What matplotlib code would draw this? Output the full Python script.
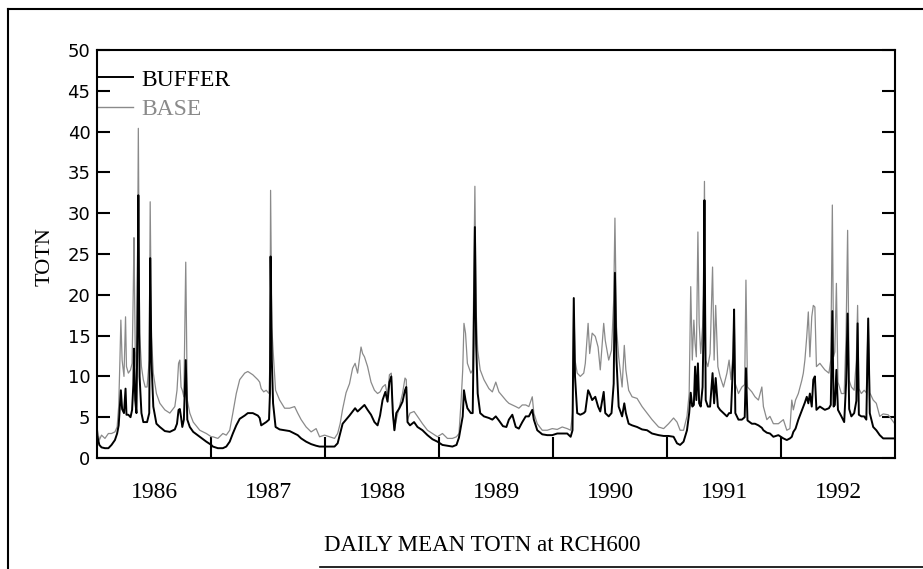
import matplotlib
matplotlib.use('Agg')
import matplotlib.pyplot as plt
from matplotlib.lines import Line2D

# days since 1986-01-01
day = [
    0, 6, 13, 24, 35, 45, 56, 63, 68, 72, 75, 79, 85, 90, 93, 99, 106, 111,
    115, 117, 121, 125, 128, 131, 135, 141, 147, 153, 159, 166, 169, 173, 179,
    189, 200, 216, 232, 248, 255, 260, 264, 268, 272, 277, 283, 288, 296, 307,
    328, 349, 365,
    370, 386, 402, 413, 424, 434, 445, 456, 472, 482, 498, 514, 520, 525, 533,
    541, 550, 553, 555, 559, 563, 571, 584, 600, 616, 632, 642, 653, 669, 685,
    701, 712, 728,
    744, 760, 770, 778, 786, 797, 808, 818, 826, 834, 845, 850, 856, 866, 877,
    888, 898, 906, 914, 923, 930, 936, 942, 947, 952, 958, 968, 978, 986, 990,
    994, 1002, 1015, 1026, 1042, 1058, 1074, 1090,
    1106, 1122, 1138, 1151, 1159, 1166, 1171, 1175, 1180, 1186, 1197, 1203,
    1206, 1210, 1214, 1219, 1227, 1239, 1255, 1266, 1277, 1287, 1300, 1311,
    1319, 1330, 1341, 1351, 1362, 1373, 1383, 1394, 1399, 1410, 1426, 1442,
    1458, 1474, 1490, 1506, 1517, 1523, 1527, 1531, 1538, 1548, 1559,
    1564, 1573, 1578, 1586, 1596, 1605, 1612, 1623, 1628, 1639, 1648, 1655,
    1659, 1664, 1671, 1682, 1689, 1694, 1703, 1714, 1730, 1746, 1762, 1778,
    1799, 1815,
    1831, 1847, 1858, 1868, 1879, 1890, 1897, 1902, 1907, 1912, 1916, 1920,
    1925, 1929, 1934, 1940, 1943, 1946, 1950, 1957, 1964, 1972, 1977, 1982,
    1989, 1996, 2007, 2018, 2025, 2031, 2038, 2041, 2045, 2055, 2066, 2075,
    2079, 2084, 2098, 2108, 2119, 2130, 2135, 2146, 2156, 2167, 2183,
    2199, 2210, 2220, 2226, 2231, 2238, 2247, 2258, 2263, 2268, 2274, 2279,
    2284, 2290, 2295, 2300, 2305, 2316, 2332, 2345, 2351, 2356, 2360, 2364,
    2369, 2374, 2385, 2394, 2400, 2405, 2410, 2417, 2426, 2433, 2437, 2441,
    2449, 2458, 2465, 2471, 2476, 2487, 2497, 2508, 2519, 2535, 2556,
]

buffer_totn = [
    2.6, 1.6, 1.3, 1.2, 1.2, 1.6, 2.2, 3.0, 4.0, 6.5, 8.3, 6.0, 5.5, 8.5, 5.3, 5.3, 5.0, 5.9,
    9.0, 13.4, 7.1, 5.5, 15.3, 32.2, 10.0, 5.5, 4.4, 4.4, 4.4, 5.5, 24.5, 12.0, 6.3,
    4.2, 3.8, 3.3, 3.2, 3.5, 4.2, 5.9, 6.0, 5.0, 3.8, 4.7, 12.0, 4.7, 3.8, 3.2,
    2.6, 2.0, 1.6,
    1.4, 1.2, 1.2, 1.4, 2.0, 3.0, 4.0, 4.8, 5.2, 5.5, 5.5, 5.2, 4.9, 4.0, 4.2,
    4.4, 4.7, 7.9, 24.7, 12.0, 6.7, 3.8, 3.5, 3.4, 3.3, 3.0, 2.8, 2.4, 2.0, 1.7,
    1.5, 1.4, 1.4,
    1.4, 1.4, 1.8, 3.0, 4.2, 4.7, 5.2, 5.7, 6.1, 5.7, 6.1, 6.3, 6.5, 5.9, 5.3,
    4.4, 4.0, 5.2, 7.1, 8.1, 6.9, 9.3, 10.0, 5.5, 3.4, 5.5, 6.1, 6.9, 8.3, 8.7,
    4.4, 4.0, 4.4, 3.8, 3.4, 2.8, 2.3, 2.0,
    1.6, 1.5, 1.4, 1.6, 2.5, 4.0, 5.1, 8.3, 7.1, 6.1, 5.5, 5.5,
    14.0, 28.3, 14.0, 7.9, 5.5, 5.1, 4.9, 4.7, 5.1, 4.6, 3.9, 3.8,
    4.7, 5.3, 3.8, 3.6, 4.4, 5.1, 5.1, 5.9, 4.7, 3.4, 2.9, 2.8,
    2.8, 3.0, 3.0, 3.0, 2.6, 3.4, 19.6, 10.0, 5.5, 5.3, 5.5,
    5.7, 8.3, 7.9, 7.1, 7.5, 6.3, 5.7, 8.1, 5.5, 5.1, 5.5, 9.1,
    22.7, 12.0, 6.3, 5.1, 6.7, 5.5, 4.2, 4.0, 3.8, 3.5, 3.4, 3.0,
    2.8, 2.7,
    2.7, 2.6, 1.8, 1.6, 2.0, 3.4, 5.5, 8.0, 6.3, 6.5, 11.2, 7.1,
    11.6, 6.7, 6.3, 8.7, 15.7, 31.6, 7.1, 6.3, 6.3, 10.4, 6.7, 9.8,
    6.3, 5.9, 5.5, 5.1, 5.5, 5.5, 12.0, 18.2, 5.5, 4.7, 4.7, 5.0,
    11.0, 4.6, 4.2, 4.2, 4.0, 3.7, 3.4, 3.1, 3.0, 2.6, 2.8,
    2.4, 2.2, 2.4, 2.6, 3.2, 3.6, 4.7, 5.8, 6.3, 6.8, 7.5, 6.7,
    7.9, 6.3, 9.6, 10.0, 5.9, 6.3, 5.9, 6.1, 6.5, 18.0, 6.3, 6.5,
    10.8, 5.9, 5.1, 4.4, 9.1, 17.7, 6.0, 5.1, 5.5, 7.0, 16.5, 5.3,
    5.1, 5.1, 4.7, 17.1, 5.5, 3.8, 3.4, 2.8, 2.4, 2.4, 2.4,
]

base_totn = [
    3.4, 2.2, 2.8, 2.4, 3.0, 3.0, 3.2, 3.8, 6.3, 12.0, 16.9, 12.0, 10.0, 17.3, 11.2, 10.4, 10.8, 11.6,
    21.0, 27.0, 13.2, 11.2, 20.0, 40.4, 15.3, 11.2, 9.6, 8.7, 8.7, 12.0, 31.4, 14.9, 10.4,
    7.9, 6.7, 5.9, 5.5, 6.3, 8.3, 11.6, 12.0, 8.7, 8.3, 7.5, 24.0, 7.1, 5.5, 4.4,
    3.4, 3.0, 2.6,
    2.6, 2.4, 3.0, 2.8, 3.4, 5.5, 7.9, 9.6, 10.4, 10.6, 10.2, 9.6, 9.3, 8.5, 8.1,
    8.3, 7.9, 12.0, 32.8, 16.0, 13.2, 8.3, 7.1, 6.1, 6.1, 6.3, 5.5, 4.7, 3.8, 3.2,
    3.6, 2.6, 2.8,
    2.6, 2.4, 3.0, 4.2, 6.0, 8.0, 9.1, 11.0, 11.6, 10.4, 13.6, 12.8, 12.4, 11.2, 9.3,
    8.3, 7.9, 8.1, 8.7, 9.0, 7.5, 10.2, 10.4, 5.5, 3.4, 4.7, 6.3, 7.9, 9.8, 9.6,
    4.7, 5.5, 5.7, 5.1, 4.2, 3.4, 3.0, 2.6,
    3.0, 2.4, 2.4, 2.6, 3.0, 7.1, 10.8, 16.5, 15.3, 11.6, 10.4, 10.8,
    20.0, 33.3, 18.1, 13.2, 10.8, 9.6, 8.5, 8.1, 9.3, 8.1, 7.5, 7.0,
    6.7, 6.5, 6.3, 6.1, 6.5, 6.5, 6.3, 7.5, 5.5, 4.2, 3.4, 3.4,
    3.6, 3.5, 3.8, 3.6, 3.4, 5.5, 19.6, 12.0, 10.4, 10.0, 10.4,
    11.6, 16.5, 12.8, 15.3, 14.9, 13.6, 10.8, 16.5, 14.4, 12.0, 13.2, 19.3,
    29.4, 16.1, 12.4, 8.7, 13.8, 10.8, 8.3, 7.5, 7.3, 6.3, 5.5, 4.7,
    3.8, 3.6,
    4.2, 4.9, 4.4, 3.4, 3.4, 5.1, 7.9, 21.0, 12.0, 16.9, 14.0, 12.4,
    27.7, 16.5, 12.8, 16.1, 20.0, 33.9, 12.0, 11.2, 12.8, 23.4, 12.0, 18.7,
    11.2, 10.0, 8.7, 10.4, 12.0, 9.6, 13.0, 18.2, 9.1, 7.9, 8.7, 9.0,
    21.8, 8.7, 8.1, 7.5, 7.1, 8.7, 6.3, 4.7, 5.1, 4.2, 4.2,
    4.7, 3.4, 3.6, 7.1, 5.9, 7.1, 7.9, 9.5, 10.4, 12.0, 14.9, 17.9,
    12.4, 17.3, 18.7, 18.5, 11.2, 11.6, 10.8, 10.4, 12.0, 31.0, 12.4, 13.0,
    21.4, 9.3, 7.9, 7.9, 15.0, 27.9, 9.5, 8.7, 8.3, 12.0, 18.7, 8.5,
    7.9, 8.3, 8.0, 17.1, 8.0, 7.1, 6.7, 5.1, 5.4, 5.3, 4.2,
]

years = ['1986', '1987', '1988', '1989', '1990', '1991', '1992']

SERIF = 'Liberation Serif'
GRAY = '#8a8a8a'

t = [1986 + d / 365.25 for d in day]

fig = plt.figure(figsize=(9.23, 5.69), dpi=100)
ax = fig.add_axes([0.1056, 0.1951, 0.8641, 0.7170])

ax.plot(t, base_totn, color=GRAY, lw=0.9)
ax.plot(t, buffer_totn, color='black', lw=1.4)

ax.set_xlim(1986, 1986 + 2557 / 365.25)
ax.set_ylim(0, 50)

ax.set_yticks(range(0, 51, 5))
ax.tick_params(axis='y', direction='in', length=9.5, width=1.5, right=True,
               labelsize=13, pad=5)

ax.set_xticks(range(1987, 1993))
ax.set_xticklabels([''] * 6)
ax.set_xticks([1986.5 + i for i in range(7)], minor=True)
ax.set_xticklabels(years, minor=True, family=SERIF, fontsize=17)
ax.tick_params(axis='x', which='major', direction='in', length=15, width=1.5)
ax.tick_params(axis='x', which='minor', length=0, pad=17)

for s in ax.spines.values():
    s.set_linewidth(1.5)

# legend drawn by hand, like the original
ax.plot([0, 0.045], [0.933, 0.933], transform=ax.transAxes, color='black',
        lw=1.4, clip_on=False)
ax.plot([0, 0.045], [0.8596, 0.8596], transform=ax.transAxes, color=GRAY,
        lw=1.0, clip_on=False)
ax.text(0.0554, 0.9265, 'BUFFER', transform=ax.transAxes, va='center',
        family=SERIF, fontsize=17)
ax.text(0.0554, 0.853, 'BASE', transform=ax.transAxes, va='center',
        family=SERIF, fontsize=17, color=GRAY)

ax.text(-0.0658, 0.4926, 'TOTN', transform=ax.transAxes, rotation=90,
        ha='center', va='center', family=SERIF, fontsize=16)
ax.text(0.482, -0.2157, 'DAILY MEAN TOTN at RCH600', transform=ax.transAxes,
        ha='center', va='center', family=SERIF, fontsize=16.5)

# outer frame of the scanned page
W, H = 923, 569
fig.add_artist(Line2D([8 / W, 1], [1 - 9 / H, 1 - 9 / H], color='black', lw=1.5))
fig.add_artist(Line2D([8 / W, 8 / W], [0, 1 - 9 / H], color='black', lw=1.5))
fig.add_artist(Line2D([320 / W, 1], [2 / H, 2 / H], color='black', lw=1.2))

fig.savefig('out.png', dpi=100)
